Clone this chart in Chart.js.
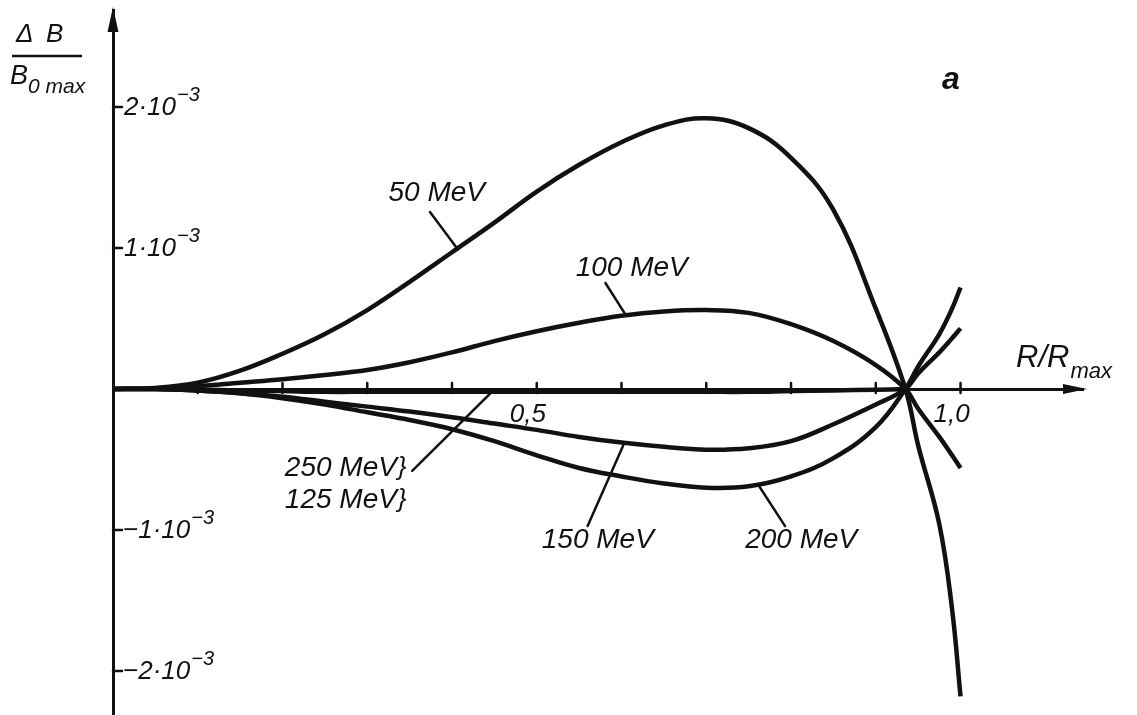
<!DOCTYPE html>
<html>
<head>
<meta charset="utf-8">
<script src="https://cdn.jsdelivr.net/npm/chart.js@4.4.0/dist/chart.umd.min.js"></script>
<style>
  html, body { margin: 0; padding: 0; background: #fff; }
  canvas { display: block; }
</style>
</head>
<body>
<canvas id="myChart" width="1137" height="715"></canvas>
<script>
// R / Rmax positions shared by every curve
const rValues = [0, 0.05, 0.1, 0.15, 0.2, 0.25, 0.3, 0.35, 0.4, 0.45, 0.5, 0.55, 0.6, 0.65, 0.7, 0.75, 0.8, 0.85, 0.9, 0.935, 0.95, 0.975, 0.99, 1.0];

// dB / B0max, in units of 1e-3
const mev50  = [0, 0.008, 0.045, 0.13, 0.25, 0.39, 0.56, 0.76, 0.97, 1.18, 1.40, 1.59, 1.75, 1.87, 1.92, 1.85, 1.64, 1.27, 0.57, 0, -0.40, -0.96, -1.56, -2.18];
const mev100 = [0, 0.005, 0.02, 0.045, 0.07, 0.10, 0.135, 0.19, 0.26, 0.34, 0.41, 0.47, 0.52, 0.55, 0.56, 0.54, 0.46, 0.34, 0.17, 0, -0.14, -0.34, -0.47, -0.56];
const mev150 = [0, 0, -0.01, -0.03, -0.055, -0.09, -0.125, -0.16, -0.20, -0.245, -0.29, -0.34, -0.38, -0.41, -0.43, -0.42, -0.37, -0.25, -0.11, 0, 0.11, 0.26, 0.36, 0.43];
const mev200 = [0, 0, -0.01, -0.03, -0.065, -0.11, -0.165, -0.22, -0.285, -0.37, -0.47, -0.56, -0.62, -0.67, -0.70, -0.69, -0.62, -0.49, -0.27, 0, 0.16, 0.39, 0.57, 0.72];
const mev250and125 = [0, 0, -0.005, -0.01, -0.015, -0.02, -0.02, -0.02, -0.02, -0.02, -0.02, -0.02, -0.02, -0.02, -0.02, -0.02, -0.015, -0.01, -0.005, 0, null, null, null, null];

const xTickValues = [0.1, 0.2, 0.3, 0.4, 0.5, 0.6, 0.7, 0.8, 0.9, 1.0];
const xTickLabels = ['', '', '', '', '0,5', '', '', '', '', '1,0'];
const yTickValues = [2, 1, -1, -2];
const yTickLabels = ['2·10', '1·10', '−1·10', '−2·10'];
const yTickExponent = '−3';

// label text, anchor and leader line, in data coordinates
const curveNotes = [
  { text: '50 MeV',  at: [0.382, 1.39],   from: [0.374, 1.255],  to: [0.407, 0.99] },
  { text: '100 MeV', at: [0.612, 0.86],   from: [0.581, 0.752],  to: [0.604, 0.535] },
  { text: '150 MeV', at: [0.572, -1.071], from: [0.560, -0.972], to: [0.602, -0.40] },
  { text: '200 MeV', at: [0.812, -1.071], from: [0.793, -0.972], to: [0.763, -0.695] }
];

const INK = '#111';
const ITALIC = '"Liberation Sans", "DejaVu Sans", sans-serif';

function toPoints(values) {
  return rValues.map((r, i) => ({ x: r, y: values[i] })).filter(p => p.y !== null);
}

const series = [mev50, mev100, mev150, mev200, mev250and125];

const overlay = {
  id: 'overlay',
  afterDraw(chart) {
    const { ctx, chartArea: a, scales: { x, y } } = chart;
    const px = v => x.getPixelForValue(v);
    const py = v => y.getPixelForValue(v);
    const x0 = px(0), y0 = py(0);
    ctx.save();
    ctx.fillStyle = INK;
    ctx.strokeStyle = INK;
    ctx.lineCap = 'round';

    // arrow heads
    ctx.beginPath();
    ctx.moveTo(x0, a.top - 3);
    ctx.lineTo(x0 - 5.5, a.top + 22);
    ctx.lineTo(x0 + 5.5, a.top + 22);
    ctx.closePath();
    ctx.fill();
    ctx.beginPath();
    ctx.moveTo(a.right + 4, y0);
    ctx.lineTo(a.right - 20, y0 - 5);
    ctx.lineTo(a.right - 20, y0 + 5);
    ctx.closePath();
    ctx.fill();

    // x ticks
    ctx.lineWidth = 2.5;
    ctx.font = 'italic 26px ' + ITALIC;
    ctx.textAlign = 'center';
    ctx.textBaseline = 'alphabetic';
    xTickValues.forEach((v, i) => {
      const tx = px(v);
      ctx.beginPath();
      ctx.moveTo(tx, y0 - 6);
      ctx.lineTo(tx, y0 + 4);
      ctx.stroke();
      if (xTickLabels[i]) ctx.fillText(xTickLabels[i], tx - 9, y0 + 33);
    });

    // y ticks
    ctx.textAlign = 'left';
    yTickValues.forEach((v, i) => {
      const ty = py(v);
      ctx.beginPath();
      ctx.moveTo(x0, ty);
      ctx.lineTo(x0 + 9, ty);
      ctx.stroke();
      ctx.font = 'italic 26px ' + ITALIC;
      const start = v < 0 ? x0 + 10 : x0 + 11;
      ctx.fillText(yTickLabels[i], start, ty + 8);
      const w = ctx.measureText(yTickLabels[i]).width;
      ctx.font = 'italic 20px ' + ITALIC;
      ctx.fillText(yTickExponent, start + w + 1, ty - 6);
    });

    // curve labels and leaders
    ctx.font = 'italic 28px ' + ITALIC;
    ctx.textAlign = 'center';
    ctx.textBaseline = 'middle';
    ctx.lineWidth = 2.5;
    curveNotes.forEach(n => {
      ctx.fillText(n.text, px(n.at[0]), py(n.at[1]));
      ctx.beginPath();
      ctx.moveTo(px(n.from[0]), py(n.from[1]));
      ctx.lineTo(px(n.to[0]), py(n.to[1]));
      ctx.stroke();
    });

    // 250 / 125 MeV pair with braces
    ctx.textAlign = 'right';
    ctx.fillText('250 MeV', px(0.335), py(-0.56));
    ctx.fillText('125 MeV', px(0.335), py(-0.787));
    ctx.font = 'italic 26px ' + ITALIC;
    ctx.textAlign = 'left';
    ctx.fillText('}', px(0.336), py(-0.56));
    ctx.fillText('}', px(0.336), py(-0.787));
    ctx.beginPath();
    ctx.moveTo(px(0.353), py(-0.58));
    ctx.lineTo(px(0.447), py(-0.02));
    ctx.stroke();

    // panel letter
    ctx.font = 'italic bold 32px ' + ITALIC;
    ctx.textAlign = 'center';
    ctx.fillText('a', 951, 80);

    // x axis title
    ctx.textAlign = 'left';
    ctx.textBaseline = 'alphabetic';
    ctx.font = 'italic 31px ' + ITALIC;
    ctx.fillText('R/R', 1016, 367);
    let w = ctx.measureText('R/R').width;
    ctx.font = 'italic 22px ' + ITALIC;
    ctx.fillText('max', 1016 + w + 1, 378);

    // y axis title
    ctx.font = 'italic 26px ' + ITALIC;
    ctx.fillText('Δ', 16, 42);
    ctx.fillText('B', 46, 42);
    ctx.lineWidth = 2.5;
    ctx.lineCap = 'butt';
    ctx.beginPath();
    ctx.moveTo(12, 56);
    ctx.lineTo(82, 56);
    ctx.stroke();
    ctx.font = 'italic 27px ' + ITALIC;
    ctx.fillText('B', 10, 84);
    w = ctx.measureText('B').width;
    ctx.font = 'italic 21px ' + ITALIC;
    ctx.fillText('0 max', 10 + w, 93);
    ctx.restore();
  }
};

new Chart(document.getElementById('myChart'), {
  type: 'line',
  data: {
    datasets: series.map(values => ({
      data: toPoints(values),
      borderColor: INK,
      borderWidth: 4.5,
      pointRadius: 0,
      fill: false,
      tension: 0.4
    }))
  },
  options: {
    responsive: false,
    animation: false,
    layout: { padding: { left: 113, right: 54, top: 10, bottom: 0 } },
    plugins: { legend: { display: false }, tooltip: { enabled: false } },
    scales: {
      x: {
        type: 'linear', min: 0, max: 1.1445, position: { y: 0 },
        grid: { display: false }, ticks: { display: false },
        border: { color: INK, width: 3 }
      },
      y: {
        type: 'linear', min: -2.312, max: 2.688, position: { x: 0 },
        grid: { display: false }, ticks: { display: false },
        border: { color: INK, width: 3 }
      }
    }
  },
  plugins: [overlay]
});
</script>
</body>
</html>
